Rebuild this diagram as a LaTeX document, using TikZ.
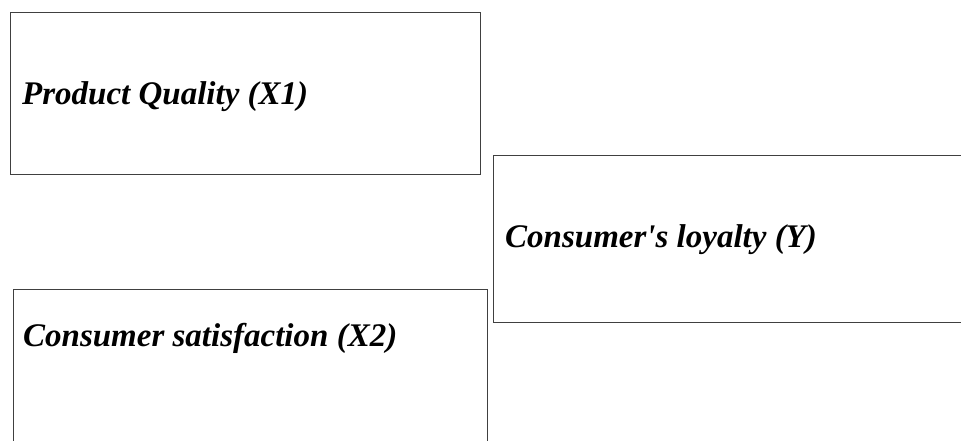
\documentclass[tikz,border=0pt]{standalone}
\usepackage{fontspec}
\setmainfont{Liberation Serif}
\usetikzlibrary{positioning}

\begin{document}
\begin{tikzpicture}
    [x=1pt, y=-1pt,
    varbox/.style={draw=black!75, line width=1.3pt, rectangle, anchor=north west, inner sep=0pt},
    varlabel/.style={anchor=base west, inner sep=0pt, font=\fontsize{33}{39}\selectfont\bfseries\itshape}]
    \useasboundingbox (0,0) rectangle (961,441);
    \clip (0,0) rectangle (961,441);
    %\draw[step=50,gray,very thin] (0,0) grid (961,441);
    \node[varbox, minimum width=470, minimum height=162] (X1) at (10, 12) {};
    \node[varbox, minimum width=480, minimum height=167] (Y) at (493, 155) {};
    \node[varbox, minimum width=474, minimum height=170] (X2) at (13, 289) {};
    \node[varlabel] (X1text) at (22, 105) {Product Quality (X1)};
    \node[varlabel] (Ytext) at (505, 247) {Consumer\textquotesingle s loyalty (Y)};
    \node[varlabel] (X2text) at (23, 346) {Consumer satisfaction (X2)};
\end{tikzpicture}
\end{document}
